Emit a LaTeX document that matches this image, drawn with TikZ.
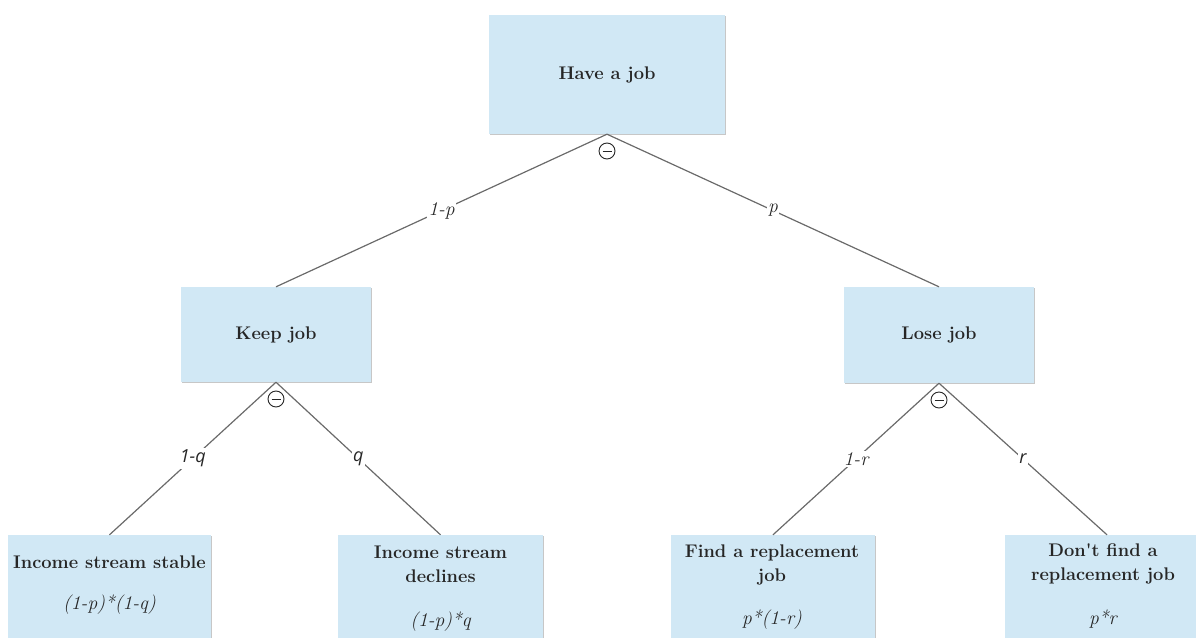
\documentclass[tikz,border=0pt]{standalone}
\usepackage{fontspec}
\newfontfamily\osans{Open Sans}
\usetikzlibrary{shadows}
\definecolor{boxblue}{HTML}{D1E8F5}
\definecolor{txt}{HTML}{262626}
\definecolor{edgec}{HTML}{6A6A6A}
\begin{document}
\begin{tikzpicture}[x=1pt,y=-1pt,
  box/.style={rectangle, fill=boxblue, inner sep=0pt,
    drop shadow={shadow xshift=1.2pt, shadow yshift=-1.4pt, fill=black, opacity=0.22}},
  title/.style={font=\fontsize{18.3}{24}\selectfont\bfseries, text=txt, align=center, inner sep=0pt},
  prob/.style={font=\fontsize{19.5}{24}\selectfont\itshape, text=txt, inner sep=0pt},
  conn/.style={draw=edgec, line width=1.2pt},
  elab/.style={font=\fontsize{19.5}{24}\selectfont\itshape, text=txt, fill=white, inner sep=1.5pt},
  elabs/.style={font=\osans\fontsize{18}{24}\selectfont\itshape, text=txt, fill=white, inner sep=1.5pt},
  chance/.style={circle, draw=txt, line width=0.9pt, fill=white, minimum size=16pt, inner sep=0pt,
    path picture={\draw[txt, line width=0.9pt]
      ([xshift=-4.5pt]path picture bounding box.center) -- ([xshift=4.5pt]path picture bounding box.center);}}]

\useasboundingbox (0,0) rectangle (1196,637);

% boxes
\node[box, title, minimum width=236pt, minimum height=119pt] (have) at (607,74.5) {Have a job};
\node[box, title, minimum width=190pt, minimum height=95pt] (keep) at (276,334.5) {Keep job};
\node[box, title, minimum width=190pt, minimum height=96pt] (lose) at (939,335) {Lose job};

\node[box, minimum width=203pt, minimum height=115pt] (stable) at (109.5,592.5) {};
\node[box, minimum width=205pt, minimum height=115pt] (declines) at (440.5,592.5) {};
\node[box, minimum width=204pt, minimum height=115pt] (find) at (773,592.5) {};
\node[box, minimum width=204pt, minimum height=115pt] (dont) at (1107,592.5) {};

% box texts
\node[title] (stablet) at (109.5,562) {Income stream stable};
\node[prob] (stablep) at (109.5,605) {(1-p)*(1-q)};
\node[title] (declinest) at (440.5,564) {Income stream\\declines};
\node[prob] (declinesp) at (440.5,622) {(1-p)*q};
\node[title] (findt) at (772,565) {Find a replacement\\job};
\node[prob] (findp) at (772,620) {p*(1-r)};
\node[title] (dontt) at (1103,564) {Don\textquotesingle t find a\\replacement job};
\node[prob] (dontp) at (1103,619) {p*r};

% connectors
\draw[conn] (have.south) -- (keep.north) node[midway, elab] {1-p};
\draw[conn] (have.south) -- (lose.north) node[midway, elab] {p};
\draw[conn] (keep.south) -- (stable.north) node[midway, elabs] {1-q};
\draw[conn] (keep.south) -- (declines.north) node[midway, elabs] {q};
\draw[conn] (lose.south) -- (find.north) node[midway, elab] {1-r};
\draw[conn] (lose.south) -- (dont.north) node[midway, elabs] {r};

% chance markers
\node[chance] (ch1) at (607,151) {};
\node[chance] (ch2) at (276,399) {};
\node[chance] (ch3) at (939,400) {};
\end{tikzpicture}
\end{document}
